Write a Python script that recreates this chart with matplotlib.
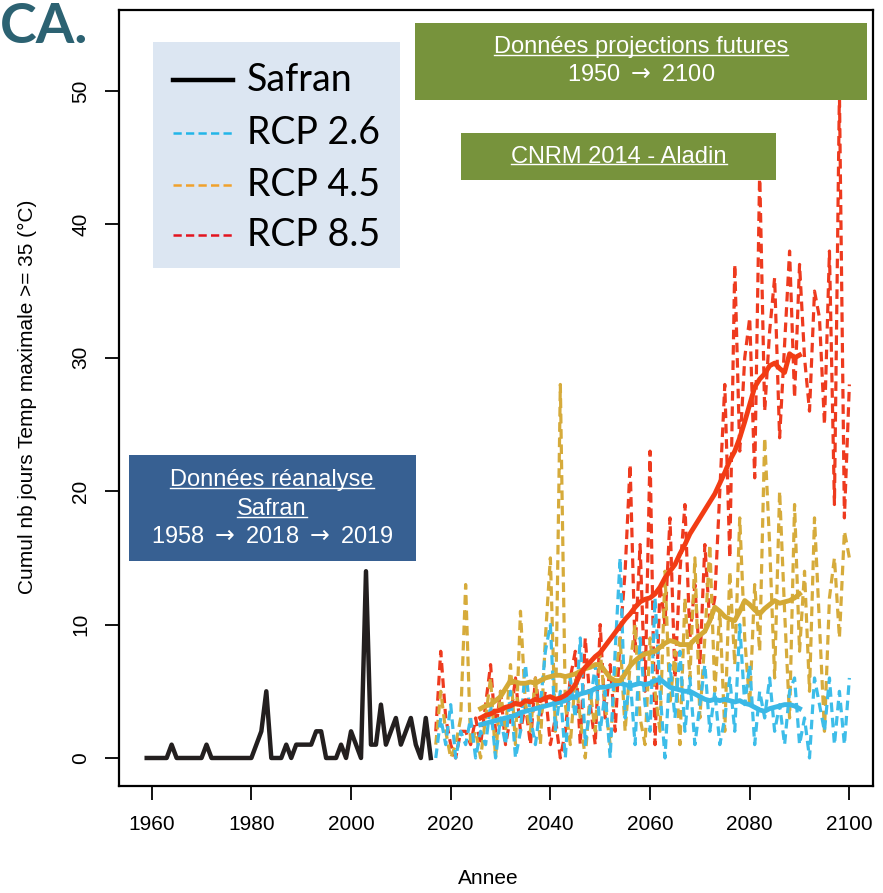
import matplotlib.pyplot as plt
from matplotlib.lines import Line2D
from matplotlib.patches import Rectangle

W, H = 883, 893
plt.rcParams['font.family'] = ['Liberation Sans', 'DejaVu Sans']

# Safran reanalysis, annual count of days with Tmax >= 35 °C
safran_years = list(range(1959, 2017))
safran_values = [0, 0, 0, 0, 0, 1, 0, 0, 0, 0,      # 1959-1968
                 0, 0, 1, 0, 0, 0, 0, 0, 0, 0,      # 1969-1978
                 0, 0, 1, 2, 5, 0, 0, 0, 1, 0,      # 1979-1988
                 1, 1, 1, 1, 2, 2, 0, 0, 0, 1,      # 1989-1998
                 0, 2, 1, 0, 14, 1, 1, 4, 1, 2,     # 1999-2008
                 3, 1, 2, 3, 1, 0, 3, 0]            # 2009-2016

# CNRM 2014 - Aladin projections, annual values 2017-2100
proj_years = list(range(2017, 2101))
rcp26 = [0, 3, 1, 4, 0, 2, 1, 3, 0, 2,
         1, 4, 0, 3, 1, 5, 0, 2, 7, 3,
         1, 4, 8, 10, 2, 5, 0, 6, 3, 9,
         1, 4, 7, 2, 5, 0, 8, 15, 3, 6,
         1, 9, 4, 2, 12, 5, 0, 7, 3, 8,
         2, 6, 1, 4, 7, 2, 5, 1, 3, 6,
         2, 10, 4, 7, 1, 5, 3, 6, 2, 4,
         1, 5, 6, 1, 3, 0, 6, 4, 2, 6,
         1, 5, 1, 6]
rcp45 = [1, 5, 2, 0, 1, 3, 13, 1, 2, 0,
         3, 6, 0, 5, 2, 7, 1, 11, 4, 2,
         6, 1, 9, 15, 2, 28, 4, 1, 6, 3,
         0, 5, 2, 8, 4, 1, 6, 9, 2, 7,
         10, 3, 1, 9, 5, 2, 14, 4, 8, 1,
         12, 6, 15, 3, 9, 16, 5, 11, 2, 14,
         7, 18, 9, 4, 13, 8, 24, 16, 6, 20,
         11, 3, 19, 8, 14, 5, 18, 10, 2, 12,
         15, 9, 17, 15]
rcp85 = [2, 8, 3, 1, 0, 2, 2, 1, 3, 1,
         4, 7, 2, 5, 1, 3, 6, 2, 4, 1,
         6, 3, 5, 1, 3, 0, 2, 6, 8, 1,
         9, 4, 1, 10, 3, 7, 2, 9, 14, 22,
         8, 16, 5, 23, 1, 13, 10, 18, 6, 14,
         19, 9, 13, 7, 16, 10, 12, 20, 28, 15,
         37, 23, 30, 33, 21, 44, 26, 32, 36, 24,
         31, 38, 27, 37, 30, 26, 35, 33, 25, 38,
         19, 50, 18, 28]

# smoothed curves 2026-2090
smooth_years = list(range(2026, 2091))
rcp26_smooth = [2.5, 2.6, 2.7, 2.8, 2.9, 3.0, 3.1, 3.2, 3.4, 3.5,
                3.6, 3.7, 3.8, 3.9, 4.0, 4.1, 4.2, 4.3, 4.5, 4.6,
                4.8, 4.9, 5.0, 5.2, 5.3, 5.3, 5.4, 5.5, 5.6, 5.5,
                5.4, 5.5, 5.6, 5.5, 5.6, 5.8, 5.9, 5.6, 5.3, 5.2,
                5.1, 5.0, 5.0, 4.8, 4.6, 4.4, 4.3, 4.4, 4.3, 4.4,
                4.3, 4.2, 4.3, 4.1, 4.0, 3.8, 3.6, 3.5, 3.7, 3.8,
                3.9, 4.0, 4.0, 3.9, 3.7]
rcp45_smooth = [3.7, 3.9, 4.0, 4.3, 4.6, 5.2, 5.8, 5.7, 5.6, 5.6,
                5.7, 5.6, 5.8, 6.0, 6.1, 6.2, 6.2, 6.1, 6.2, 6.3,
                6.5, 6.7, 6.8, 7.0, 7.0, 6.5, 6.0, 5.8, 5.8, 6.3,
                6.9, 7.3, 7.6, 7.8, 7.9, 8.0, 8.3, 8.6, 8.8, 8.7,
                8.5, 8.5, 8.5, 8.9, 9.2, 9.5, 10.3, 11.3, 11.0, 10.6,
                10.4, 10.3, 11.0, 11.8, 11.5, 11.1, 10.8, 11.2, 11.5, 11.8,
                11.6, 11.7, 11.8, 12.0, 12.3]
rcp85_smooth = [3.0, 3.2, 3.3, 3.5, 3.6, 3.8, 3.9, 4.1, 4.0, 4.3,
                4.2, 4.4, 4.3, 4.5, 4.6, 4.4, 4.5, 4.7, 5.0, 5.5,
                6.3, 6.8, 7.2, 7.6, 7.9, 8.4, 8.9, 9.4, 9.9, 10.4,
                10.8, 11.3, 11.7, 11.9, 12.0, 12.3, 12.8, 13.5, 14.0, 14.5,
                15.3, 16.0, 16.8, 17.4, 18.0, 18.6, 19.2, 19.8, 20.6, 21.4,
                22.3, 23.0, 24.0, 25.2, 26.5, 27.8, 28.4, 28.8, 29.4, 29.6,
                29.2, 28.9, 30.3, 30.0, 30.2]

legend_labels = ['Safran', 'RCP 2.6', 'RCP 4.5', 'RCP 8.5']
legend_colors = ['#000000', '#22b5e8', '#f0a12c', '#e3141f']

c26, c45, c85 = '#3dbde9', '#d6ab3b', '#ee3a1e'
c26s, c45s, c85s = '#3ab8e6', '#d4a935', '#f23c14'
dash = (0, (3, 1.8))

fig = plt.figure(figsize=(W / 100, H / 100), dpi=100)
ax = fig.add_axes([119.3 / W, 1 - 786 / H, (873.3 - 119.3) / W, (786 - 10) / H])

ax.plot(proj_years, rcp85, color=c85, lw=2.3, ls=dash)
ax.plot(proj_years, rcp45, color=c45, lw=2.3, ls=dash)
ax.plot(proj_years, rcp26, color=c26, lw=2.3, ls=dash)
ax.plot(smooth_years, rcp26_smooth, color=c26s, lw=3.5)
ax.plot(smooth_years, rcp45_smooth, color=c45s, lw=3.5)
ax.plot(smooth_years, rcp85_smooth, color=c85s, lw=3.5)
ax.plot(safran_years, safran_values, color='#231f1f', lw=3.2)

ax.set_xlim(1953.5, 2104.8)
ax.set_ylim(-2.1, 56.07)
ax.set_xticks(range(1960, 2101, 20))
ax.set_yticks(range(0, 51, 10))
for s in ax.spines.values():
    s.set_linewidth(1.6)
ax.tick_params(length=10, width=1.3, labelsize=15, pad=11)
ax.tick_params(axis='y', labelrotation=90)
for lbl in ax.get_yticklabels():
    lbl.set_va('center')

ax.set_xlabel('Annee', fontsize=15)
ax.xaxis.set_label_coords(0.49, -(878 - 786) / 776)
ax.set_ylabel('Cumul nb jours Temp maximale >= 35 (°C)', fontsize=15)
ax.yaxis.set_label_coords(-(119.3 - 27) / 754, (786 - 397) / 776)
ax.xaxis.label.set_va('center')
ax.yaxis.label.set_va('center')


def px_rect(x0, y0, x1, y1, color):
    fig.patches.append(Rectangle((x0 / W, 1 - y1 / H), (x1 - x0) / W, (y1 - y0) / H,
                                 transform=fig.transFigure, facecolor=color,
                                 edgecolor='none', zorder=5))


underlined = []


def px_text(x, y, s, under=False, **kw):
    t = fig.text(x / W, 1 - y / H, s, zorder=6, **kw)
    if under:
        underlined.append(t)
    return t


# panel tag
px_text(0, 27, 'CA.', ha='left', va='center', fontsize=40, fontweight='bold',
        color='#2c6272', family=['Lato', 'DejaVu Sans'])

# legend
px_rect(153, 42, 400, 268, '#dce6f2')
rows = [80, 133, 185, 235]
for i, (lab, col) in enumerate(zip(legend_labels, legend_colors)):
    y = 1 - rows[i] / H
    if i == 0:
        ln = Line2D([173 / W, 233 / W], [y, y], color=col, lw=3.2, transform=fig.transFigure)
    else:
        ln = Line2D([173 / W, 233 / W], [y, y], color=col, lw=1.8, ls=(0, (3.3, 1.7)),
                    transform=fig.transFigure)
    ln.set_zorder(6)
    fig.lines.append(ln)
    px_text(247, rows[i], lab, ha='left', va='center', fontsize=27,
            family=['Lato', 'DejaVu Sans'])

# annotation boxes
arrow = r'$\rightarrow$'
green = '#77933c'
px_rect(415, 23, 867, 100, green)
px_text(641, 47, 'Données projections futures', under=True, ha='center', va='center',
        fontsize=17, color='white')
px_text(641, 75, f'1950 {arrow} 2100', ha='center', va='center', fontsize=17, color='white')

px_rect(461, 133, 776, 180, green)
px_text(619, 157, 'CNRM 2014 - Aladin', under=True, ha='center', va='center',
        fontsize=17, color='white')

px_rect(129, 455, 416, 561, '#376092')
px_text(272, 480, 'Données réanalyse', under=True, ha='center', va='center',
        fontsize=17, color='white')
px_text(272, 509, 'Safran', under=True, ha='center', va='center', fontsize=17, color='white')
px_text(272, 537, f'1958 {arrow} 2018 {arrow} 2019', ha='center', va='center',
        fontsize=17, color='white')

# underline the titled labels
fig.canvas.draw()
inv = fig.transFigure.inverted()
for t in underlined:
    bb = t.get_window_extent()
    (fx0, fy), (fx1, _) = inv.transform([(bb.x0, bb.y0 + 3.5), (bb.x1, bb.y0 + 3.5)])
    ul = Line2D([fx0, fx1], [fy, fy], color='white', lw=1.0, transform=fig.transFigure)
    ul.set_zorder(7)
    fig.lines.append(ul)

fig.savefig('out.png', dpi=100)
